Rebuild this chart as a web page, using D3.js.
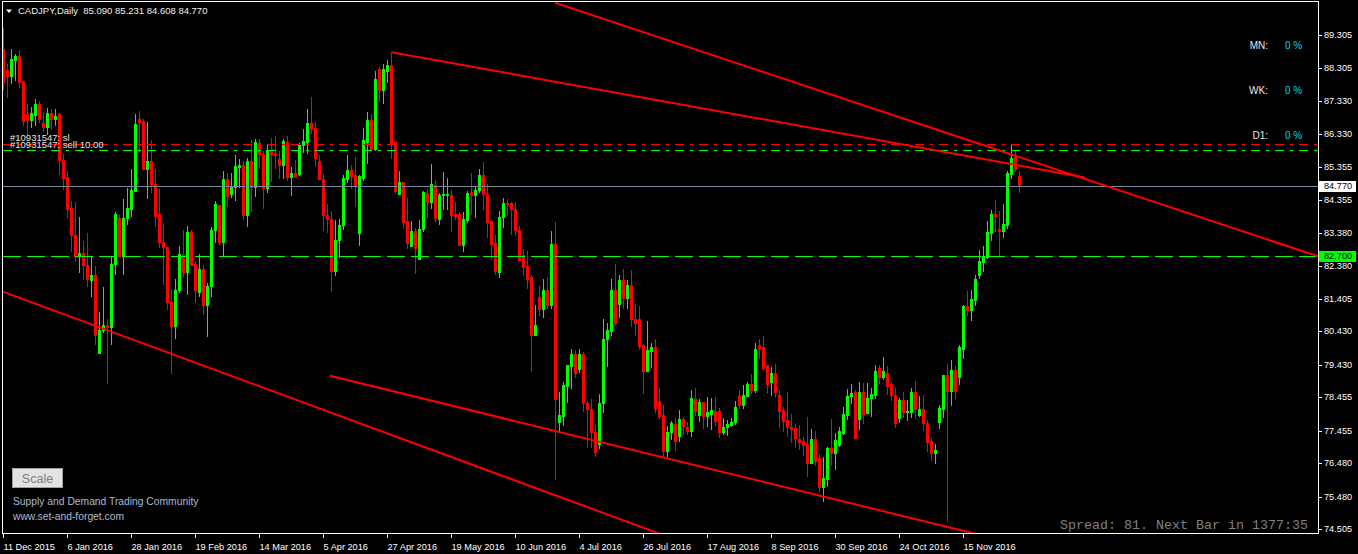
<!DOCTYPE html>
<html><head><meta charset="utf-8">
<script src="https://cdn.jsdelivr.net/npm/d3@7"></script>
<style>html,body{margin:0;padding:0;background:#000;overflow:hidden}svg{display:block}</style>
</head><body><svg id="c" width="1358" height="554"></svg>
<script>
// ---- DATA (CADJPY Daily, bars from 11 Dec 2015) ----
const openP = [
88.90,88.25,88.08,88.56,88.67,87.92,86.93,86.75,86.90,87.25,
86.68,86.55,86.96,86.78,86.93,85.57,85.04,84.14,83.32,82.68,
82.78,82.42,81.98,82.12,79.78,80.48,80.62,80.55,82.44,83.84,
82.70,83.82,84.10,84.63,86.78,86.72,85.30,85.52,84.85,83.95,
83.12,82.97,81.32,80.58,81.68,82.72,82.22,83.42,82.46,81.60,
82.30,81.22,81.80,83.48,84.22,83.12,84.98,84.55,84.75,85.35,
85.40,83.92,85.52,84.75,86.08,85.73,84.73,85.85,85.78,85.59,
85.41,86.09,85.06,85.17,85.13,86.00,86.09,86.66,86.51,85.53,
84.99,83.93,83.79,82.23,83.16,83.63,84.98,85.26,85.11,83.39,
85.03,86.11,86.76,85.89,88.29,87.66,88.23,88.41,86.09,84.53,
84.91,83.73,82.98,83.43,82.61,83.51,84.56,84.31,84.81,83.81,
84.51,84.51,84.51,83.94,83.96,83.03,83.76,84.59,84.51,84.66,
85.11,84.53,83.73,83.09,82.21,83.86,84.26,84.26,84.11,83.46,
82.71,82.39,82.06,80.31,81.46,81.09,81.66,81.21,83.06,77.71,
77.91,78.81,79.39,79.76,79.31,79.76,78.29,78.11,77.41,77.06,
78.29,80.21,80.43,81.66,81.24,81.96,81.43,81.81,80.81,80.81,
80.01,79.24,79.83,79.96,78.36,77.93,76.86,77.41,77.66,77.29,
77.81,77.58,77.46,78.41,77.93,78.31,77.89,77.96,78.06,78.06,
77.43,77.56,77.63,77.71,78.51,78.23,78.51,78.86,78.69,80.01,
79.96,79.41,78.93,79.18,78.53,78.08,77.78,77.58,77.53,77.21,
77.15,77.06,76.50,77.21,76.65,75.78,76.01,76.95,76.80,77.03,
77.40,77.93,78.50,78.63,77.81,78.63,78.00,78.45,78.53,79.33,
79.06,79.18,78.86,78.53,77.85,78.38,78.03,78.03,78.63,77.93,
78.10,77.70,77.15,76.80,77.73,78.10,79.11,78.66,79.26,79.06,
79.90,81.18,81.06,81.38,82.13,82.50,82.66,83.38,83.96,83.51,
83.43,83.63,85.13,85.66,85.090];
const highP = [
89.50,88.45,88.88,88.75,88.85,87.92,87.25,87.15,87.40,87.32,
87.02,87.12,87.10,87.10,86.98,85.75,85.22,84.32,84.30,83.86,
83.15,83.38,82.70,82.40,81.02,81.77,80.80,82.65,84.02,83.92,
84.40,84.73,85.28,86.94,87.02,86.78,86.70,86.15,85.28,84.70,
83.68,82.97,81.70,82.00,82.98,83.48,83.60,83.48,82.55,82.76,
82.42,81.88,83.56,84.32,84.22,85.22,85.18,85.18,85.72,85.60,
85.52,85.62,86.15,86.18,86.20,85.83,86.03,86.21,86.29,85.83,
86.19,86.29,85.36,85.56,86.06,86.49,87.09,87.46,86.71,85.71,
85.13,84.23,84.03,83.76,83.79,85.11,85.71,85.41,85.65,85.12,
86.51,86.99,86.93,88.23,88.36,88.43,88.56,88.79,86.11,85.23,
84.91,84.41,83.73,83.53,83.76,84.64,84.69,85.44,84.96,84.56,
85.21,85.03,84.66,84.29,84.01,84.01,84.63,85.16,84.76,85.29,
85.51,84.83,83.76,83.33,84.03,84.41,84.39,84.31,84.30,83.58,
82.91,82.83,82.11,81.23,81.78,82.01,82.06,83.43,83.70,78.61,
78.91,79.43,79.91,79.86,79.91,79.80,78.36,78.41,77.63,78.56,
80.79,80.69,81.99,82.46,82.11,82.31,81.96,82.26,81.26,81.18,
80.06,80.73,80.09,80.21,78.73,78.23,77.61,77.76,77.83,78.09,
77.86,77.71,78.69,78.74,78.41,78.33,78.46,78.44,78.48,78.13,
77.85,77.79,77.83,78.36,78.69,78.83,78.91,79.16,80.09,80.21,
80.28,79.43,79.36,79.46,78.68,78.18,78.63,77.96,77.66,77.63,
77.26,77.86,77.50,77.45,76.76,76.66,76.98,77.81,77.38,77.56,
78.18,78.70,78.86,78.68,78.91,78.90,78.90,78.73,79.43,79.43,
79.65,79.40,78.93,78.73,78.43,78.63,78.38,78.73,78.96,78.50,
78.53,77.78,77.23,77.06,78.23,79.13,79.46,79.58,79.40,80.03,
81.23,81.63,81.68,82.13,82.88,82.98,83.75,84.08,84.35,84.05,
84.23,85.23,86.03,85.83,85.231];
const lowP = [
87.70,87.45,87.88,87.95,87.75,86.60,86.35,86.55,86.60,86.70,
86.42,86.35,86.50,86.60,85.15,84.70,83.85,82.85,82.55,82.20,
82.00,81.80,81.50,80.05,79.78,80.40,78.88,80.05,82.15,82.70,
82.15,83.65,83.88,84.63,85.80,85.30,84.42,84.60,83.60,82.95,
81.85,81.10,79.18,80.22,81.60,82.10,81.55,82.42,81.30,81.48,
80.95,80.28,81.50,83.12,83.05,82.72,84.20,84.45,84.35,84.75,
83.80,83.58,84.05,84.48,85.33,84.13,84.59,84.93,85.33,85.03,
85.03,84.96,84.51,85.06,85.11,85.81,85.76,86.36,85.38,84.99,
83.46,83.41,81.63,82.11,82.66,83.49,84.91,84.73,84.19,83.03,
84.96,85.46,85.86,85.86,87.33,87.26,87.89,85.63,84.59,84.53,
83.53,82.93,82.98,82.18,82.61,83.43,83.86,84.13,83.73,83.66,
84.11,84.09,83.43,83.79,83.01,82.83,83.71,83.96,83.86,84.61,
84.09,83.26,82.61,82.16,82.06,83.56,83.91,83.36,83.31,82.56,
82.11,81.73,79.23,80.31,80.93,80.86,81.13,81.13,76.01,77.43,
77.63,78.31,78.73,79.06,79.21,78.06,76.96,76.96,76.69,76.93,
78.01,79.39,80.31,80.61,80.86,81.13,81.13,80.59,80.33,79.91,
78.58,79.24,79.36,78.03,77.83,76.71,76.69,77.21,76.89,77.16,
77.36,77.36,77.29,77.93,77.76,77.53,77.61,77.51,77.63,77.26,
77.36,77.34,77.61,77.66,78.13,78.13,78.51,78.59,78.63,79.63,
79.29,78.59,78.53,78.48,77.56,77.46,77.30,77.13,76.98,76.90,
76.73,76.10,76.48,76.43,75.66,75.36,75.80,76.43,76.31,77.00,
77.36,77.80,78.28,77.25,77.51,77.68,77.98,77.90,78.43,78.88,
79.00,78.56,78.38,77.56,77.73,77.88,77.78,77.86,77.83,77.90,
77.48,76.86,76.58,76.48,77.53,77.86,74.76,78.23,78.43,78.86,
79.63,80.93,80.78,81.21,82.03,82.23,82.63,83.18,83.43,82.70,
83.25,83.53,85.03,85.23,84.608];
const closeP = [
87.90,88.07,88.58,88.67,87.90,86.73,86.75,86.97,87.25,86.78,
86.55,86.98,86.80,86.88,85.55,85.02,84.10,83.32,82.68,82.78,
82.42,82.00,82.12,80.32,80.48,80.62,80.55,82.44,83.96,82.70,
83.84,84.14,84.66,86.64,86.70,85.30,85.52,84.84,83.88,83.10,
82.95,81.30,80.58,81.68,82.75,82.22,83.42,82.42,81.68,82.30,
81.22,81.78,83.48,84.25,83.12,84.98,84.48,84.75,85.38,85.40,
83.92,85.52,84.75,86.10,85.73,84.73,85.85,85.75,85.71,85.41,
86.13,85.06,85.17,85.08,86.01,86.13,86.66,86.49,85.63,84.99,
83.93,83.81,82.23,83.16,83.63,85.01,85.26,85.09,84.79,85.08,
86.16,86.76,85.89,87.99,87.66,88.29,88.41,86.03,84.63,84.91,
83.71,83.09,83.43,82.93,83.51,84.61,84.31,84.83,83.83,84.51,
84.53,84.54,83.93,83.89,83.03,83.79,84.56,84.51,84.66,85.11,
84.53,83.71,83.06,82.23,83.86,84.26,84.23,84.11,83.48,82.56,
82.36,82.01,80.31,80.61,81.09,81.66,81.21,83.06,78.41,77.93,
78.83,79.43,79.76,79.19,79.76,78.29,78.11,77.41,76.81,78.29,
80.21,80.46,81.66,80.68,81.96,81.43,81.81,80.79,80.68,79.99,
79.24,79.86,79.96,78.13,77.91,76.86,77.43,77.69,77.16,77.81,
77.59,77.46,78.43,78.06,78.31,77.91,78.01,78.09,77.76,77.41,
77.58,77.66,77.73,78.16,78.23,78.53,78.86,78.69,79.89,79.91,
79.33,78.86,79.18,78.63,78.06,77.76,77.56,77.50,77.23,77.13,
77.03,76.50,77.21,76.56,75.78,76.03,76.95,76.80,77.18,77.45,
77.96,78.50,78.60,77.25,78.63,77.96,78.45,78.56,79.23,79.06,
79.23,78.80,78.53,77.70,78.38,78.03,78.06,78.63,78.10,78.10,
77.70,77.13,76.80,76.88,78.15,79.11,78.66,79.28,78.66,79.95,
81.18,81.06,81.41,82.01,82.55,82.68,83.40,83.96,83.88,83.43,
83.66,85.16,85.63,85.30,84.770];

const xTickLabels = ["11 Dec 2015","6 Jan 2016","28 Jan 2016","19 Feb 2016","14 Mar 2016","5 Apr 2016",
  "27 Apr 2016","19 May 2016","10 Jun 2016","4 Jul 2016","26 Jul 2016","17 Aug 2016","8 Sep 2016",
  "30 Sep 2016","24 Oct 2016","15 Nov 2016"];
const barsPerLabel = 16;
const yTickValues = [89.305,88.305,87.330,86.330,85.355,84.355,83.380,82.380,81.405,80.430,79.430,78.455,77.455,76.480,75.480,74.505];

const symbolText = "CADJPY,Daily";
const bidPrice = 84.770;
const levelPrice = 82.700;
const slPrice = 86.03;
const orderPrice = 85.847;
const orderTicket = "#10931547";
const orderLots = "10.00";
// trendlines: [startBar, startPrice, endBar, endPrice]
const trendUpper = [137.9, 90.27, 329.1, 82.66];
const trendMid = [97, 88.79, 270.4, 85.04];
const trendLowLeft = [-0.2, 81.62, 165, 74.33];
const trendLowMid = [81.6, 79.10, 245.4, 74.30];
const stats = [["MN:","0 %"],["WK:","0 %"],["D1:","0 %"]];
const spreadText = "Spread: 81. Next Bar in 1377:35";

// ---- DRAWING ----
const W = 1358, H = 554;
const P = {l:3, t:2, r:1318, b:533};
const BULL = "#00ff00", BEAR = "#ff0000";
const n = openP.length;
const x = d3.scaleLinear().domain([0,1]).range([3,7]);
const y = d3.scaleLinear().domain([74.505, 89.305]).range([529.3, 35]).interpolate(d3.interpolateRound);
const yf = y.copy().interpolate(d3.interpolateNumber);
const svg = d3.select("#c");
svg.append("rect").attr("width",W).attr("height",H).attr("fill","#000");
svg.append("defs").append("clipPath").attr("id","clip").append("rect")
  .attr("x",P.l).attr("y",P.t).attr("width",P.r-P.l).attr("height",P.b-P.t);

const plot = svg.append("g").attr("clip-path","url(#clip)");
const bars = d3.range(n).map(i=>({i,o:openP[i],h:highP[i],l:lowP[i],c:closeP[i]}));
const cg = plot.append("g").attr("shape-rendering","crispEdges");
cg.selectAll("rect.w").data(bars).join("rect").attr("class","w")
  .attr("x",d=>x(d.i)).attr("width",1)
  .attr("y",d=>y(d.h)).attr("height",d=>Math.max(1,y(d.l)-y(d.h)+1))
  .attr("fill",d=>d.c>=d.o?BULL:BEAR);
cg.selectAll("rect.b").data(bars).join("rect").attr("class","b")
  .attr("x",d=>x(d.i)-1).attr("width",3)
  .attr("y",d=>y(Math.max(d.o,d.c))).attr("height",d=>Math.max(1,y(Math.min(d.o,d.c))-y(Math.max(d.o,d.c))+1))
  .attr("fill",d=>d.c>=d.o?BULL:BEAR);

// horizontal lines
const hl = plot.append("g");
function hline(p,color,dash){
  hl.append("line").attr("x1",P.l).attr("x2",P.r).attr("y1",y(p)+0.5).attr("y2",y(p)+0.5)
    .attr("stroke",color).attr("stroke-width",1).attr("stroke-dasharray",dash||null);
}
hline(bidPrice,"#778899");
hline(levelPrice,BULL,"18,6");
hline(slPrice,BEAR,"9,6,3,6");
hline(orderPrice,BULL,"9,6,3,6");

// trendlines
const tl = plot.append("g");
[trendUpper,trendMid,trendLowLeft,trendLowMid].forEach(t=>{
  tl.append("line").attr("x1",x(t[0])+0.5).attr("y1",yf(t[1]))
    .attr("x2",x(t[2])+0.5).attr("y2",yf(t[3]))
    .attr("stroke",BEAR).attr("stroke-width",2);
});

// order labels
const lf = "'Liberation Sans', Arial, sans-serif";
plot.append("text").attr("x",10).attr("y",y(slPrice)-3).text(orderTicket+": sl")
  .attr("fill","#e6e6e6").attr("font-family",lf).attr("font-size","9.5px");
plot.append("text").attr("x",10).attr("y",y(orderPrice)-2).text(orderTicket+": sell "+orderLots)
  .attr("fill","#e6e6e6").attr("font-family",lf).attr("font-size","9.5px");

// frame
svg.append("rect").attr("x",2.5).attr("y",1.5).attr("width",1316).attr("height",532)
  .attr("fill","none").attr("stroke","#fff").attr("stroke-width",1).attr("shape-rendering","crispEdges");

// right axis
const ya = svg.append("g").attr("transform",`translate(${P.r+1},0)`)
  .call(d3.axisRight(y).tickValues(yTickValues).tickSize(3).tickPadding(2).tickFormat(d3.format(".3f")));
ya.select(".domain").remove();
ya.selectAll("line").attr("stroke","#fff").attr("shape-rendering","crispEdges");
ya.selectAll("text").attr("fill","#fff").attr("font-family",lf).attr("font-size","9.2px");

// bottom axis
const xa = svg.append("g").attr("transform",`translate(0,${P.b+0.5})`)
  .call(d3.axisBottom(x).tickValues(xTickLabels.map((_,k)=>k*barsPerLabel)).tickSize(4).tickPadding(6)
  .tickFormat((d,k)=>xTickLabels[k]));
xa.select(".domain").remove();
xa.selectAll("line").attr("stroke","#fff").attr("shape-rendering","crispEdges");
xa.selectAll("text").attr("fill","#fff").attr("font-family",lf).attr("font-size","9.2px")
  .attr("text-anchor","start").attr("x",0);

// price tags on axis
function tag(p,bg){
  const yy=y(p);
  svg.append("rect").attr("x",P.r+1).attr("y",yy-5).attr("width",37).attr("height",11).attr("fill",bg);
  svg.append("text").attr("x",P.r+6).attr("y",yy).attr("dy","0.32em").text(d3.format(".3f")(p))
    .attr("fill","#000").attr("font-family",lf).attr("font-size","9.2px");
}
tag(bidPrice,"#ffffff");
tag(levelPrice,BULL);

// header
svg.append("path").attr("d","M6,9.5L12,9.5L9,13Z").attr("fill","#fff");
svg.append("text").attr("x",18).attr("y",14)
  .text(`${symbolText}  ${d3.format(".3f")(openP[n-1])} ${d3.format(".3f")(highP[n-1])} ${d3.format(".3f")(lowP[n-1])} ${d3.format(".3f")(closeP[n-1])}`)
  .attr("fill","#f0f0f0").attr("font-family",lf).attr("font-size","9.5px").style("white-space","pre");

// stats block
stats.forEach((s,k)=>{
  const by = 48.5 + k*45;
  svg.append("text").attr("x",1268).attr("y",by).attr("text-anchor","end").text(s[0])
    .attr("fill","#e8e8e8").attr("font-family",lf).attr("font-size","10px");
  svg.append("text").attr("x",1285).attr("y",by).text(s[1])
    .attr("fill","#00d8e0").attr("font-family",lf).attr("font-size","10px");
});

// scale button
svg.append("rect").attr("x",12.5).attr("y",468.5).attr("width",50).attr("height",19)
  .attr("fill","#e2e2e2").attr("stroke","#a0a0a0").attr("shape-rendering","crispEdges");
svg.append("text").attr("x",37.5).attr("y",483).attr("text-anchor","middle").text("Scale")
  .attr("fill","#808080").attr("font-family",lf).attr("font-size","12.5px");
svg.append("text").attr("x",13).attr("y",505).text("Supply and Demand Trading Community")
  .attr("fill","#aabbd4").attr("font-family",lf).attr("font-size","10.3px");
svg.append("text").attr("x",13).attr("y",520).text("www.set-and-forget.com")
  .attr("fill","#aabbd4").attr("font-family",lf).attr("font-size","10.3px");

// spread text
svg.append("text").attr("x",1060).attr("y",528.5).text(spreadText)
  .attr("fill","#808080").attr("font-family","'Liberation Mono', 'Courier New', monospace").attr("font-size","13.33px");
</script>
</body></html>
